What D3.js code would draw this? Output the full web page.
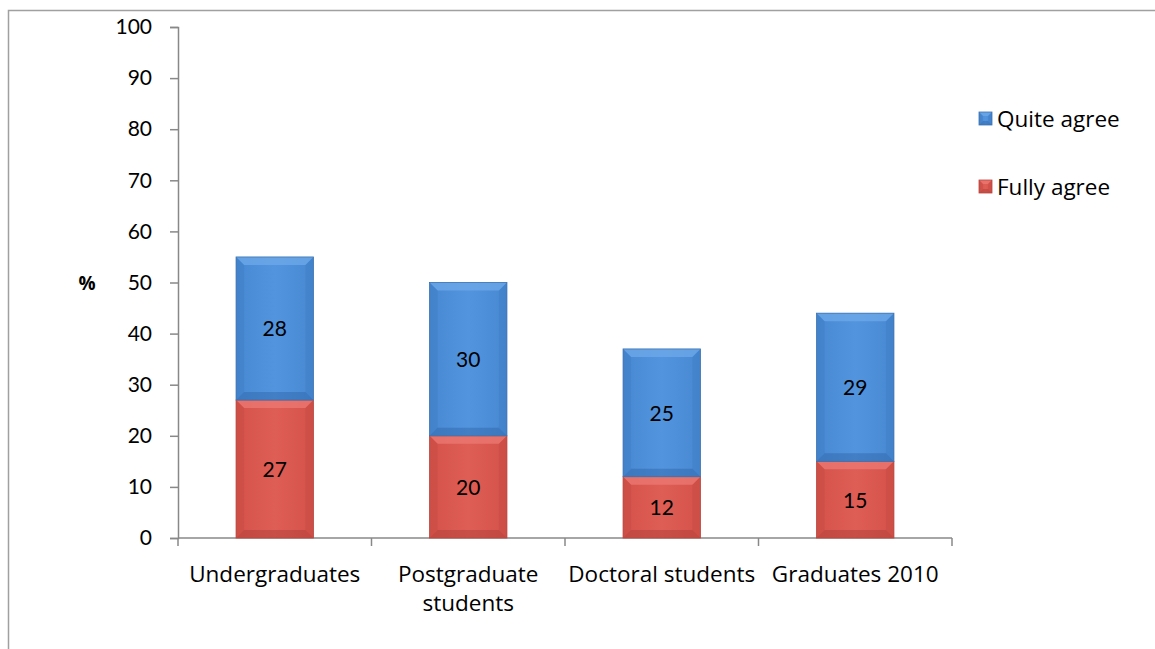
<!DOCTYPE html>
<html>
<head>
<meta charset="utf-8">
<script src="https://cdn.jsdelivr.net/npm/d3@7"></script>
<style>
  body { margin: 0; background: #fff; }
  text { font-family: "Open Sans", Lato, sans-serif; fill: #000; }
</style>
</head>
<body>
<script>
// data
var categories = ["Undergraduates", "Postgraduate students", "Doctoral students", "Graduates 2010"];
var catLines = [["Undergraduates"], ["Postgraduate", "students"], ["Doctoral students"], ["Graduates 2010"]];
var fullyAgree = [27, 20, 12, 15];
var quiteAgree = [28, 30, 25, 29];
var seriesNames = ["Quite agree", "Fully agree"];
var yTicks = [0, 10, 20, 30, 40, 50, 60, 70, 80, 90, 100];

var W = 1155, H = 649;
var plot = {left: 178, right: 952, top: 27, bottom: 538};
var fs = "22.5px";

var svg = d3.select("body").append("svg")
  .attr("width", W)
  .attr("height", H);

// defs: gradients for the bevelled bars
var defs = svg.append("defs");
function hGrad(id, edge, mid) {
  var g = defs.append("linearGradient").attr("id", id)
    .attr("x1", "0").attr("x2", "1").attr("y1", "0").attr("y2", "0");
  g.append("stop").attr("offset", "0").attr("stop-color", edge);
  g.append("stop").attr("offset", "0.5").attr("stop-color", mid);
  g.append("stop").attr("offset", "1").attr("stop-color", edge);
}
hGrad("gBlue", "#4888d2", "#5295de");
hGrad("gRed", "#d4524a", "#de5d55");

var colors = {
  blue: {fill: "url(#gBlue)", top: "#6eaaea", side: "#3a78c0", bottom: "#2f64a6", stroke: "#3d72b0"},
  red: {fill: "url(#gRed)", top: "#ec7b74", side: "#c04840", bottom: "#ac3e37", stroke: "#b9463f"}
};

// outer border
svg.append("rect")
  .attr("x", 8.5).attr("y", 10.5)
  .attr("width", W + 20).attr("height", H + 20)
  .attr("fill", "none")
  .attr("stroke", "#a0a0a0")
  .attr("stroke-width", 1.5);

var x = d3.scaleBand()
  .domain(categories)
  .range([plot.left, plot.right])
  .paddingInner(0.6)
  .paddingOuter(0.3);

var y = d3.scaleLinear()
  .domain([0, 100])
  .range([plot.bottom, plot.top]);

// y axis
var yAxis = svg.append("g")
  .attr("transform", "translate(" + plot.left + ",0)")
  .call(d3.axisLeft(y).tickValues(yTicks).tickSize(8).tickPadding(18));
yAxis.select(".domain").attr("stroke", "#888").attr("stroke-width", 1.5);
yAxis.selectAll(".tick line").attr("stroke", "#888").attr("stroke-width", 1.5);
yAxis.selectAll("text").attr("fill", "#000")
  .style("font-family", "Lato, sans-serif").style("font-size", "21px");

// x axis line and ticks at category boundaries
svg.append("line")
  .attr("x1", plot.left).attr("x2", plot.right)
  .attr("y1", plot.bottom).attr("y2", plot.bottom)
  .attr("stroke", "#888").attr("stroke-width", 1.5);
var step = x.step();
var bounds = d3.range(categories.length + 1).map(function(i) { return plot.left + i * step; });
svg.selectAll(".xtick").data(bounds).enter().append("line")
  .attr("x1", function(d) { return d; }).attr("x2", function(d) { return d; })
  .attr("y1", plot.bottom).attr("y2", plot.bottom + 8)
  .attr("stroke", "#888").attr("stroke-width", 1.5);

// x labels
categories.forEach(function(c, i) {
  var t = svg.append("text")
    .attr("x", x(c) + x.bandwidth() / 2)
    .attr("y", 582)
    .attr("text-anchor", "middle")
    .style("font-size", fs);
  catLines[i].forEach(function(line, j) {
    t.append("tspan")
      .attr("x", x(c) + x.bandwidth() / 2)
      .attr("dy", j === 0 ? 0 : 29)
      .text(line);
  });
});

// % label
svg.append("text")
  .attr("x", 87).attr("y", 290)
  .attr("text-anchor", "middle")
  .style("font-size", "19px")
  .style("font-weight", "bold")
  .text("%");

// bevelled segment
function drawSegment(g, x0, w, y0, y1, c, b0) {
  var h = y1 - y0, b = Math.min(b0 || 8, h / 2);
  g.append("rect").attr("x", x0).attr("y", y0).attr("width", w).attr("height", h)
    .attr("fill", c.fill);
  // top bevel
  g.append("path")
    .attr("d", "M" + x0 + "," + y0 + "L" + (x0 + w) + "," + y0 + "L" + (x0 + w - b) + "," + (y0 + b) + "L" + (x0 + b) + "," + (y0 + b) + "Z")
    .attr("fill", c.top).attr("opacity", 0.75);
  // left/right bevel
  g.append("path")
    .attr("d", "M" + x0 + "," + y0 + "L" + (x0 + b) + "," + (y0 + b) + "L" + (x0 + b) + "," + (y1 - b) + "L" + x0 + "," + y1 + "Z")
    .attr("fill", c.side).attr("opacity", 0.35);
  g.append("path")
    .attr("d", "M" + (x0 + w) + "," + y0 + "L" + (x0 + w - b) + "," + (y0 + b) + "L" + (x0 + w - b) + "," + (y1 - b) + "L" + (x0 + w) + "," + y1 + "Z")
    .attr("fill", c.side).attr("opacity", 0.35);
  // bottom bevel
  g.append("path")
    .attr("d", "M" + x0 + "," + y1 + "L" + (x0 + w) + "," + y1 + "L" + (x0 + w - b) + "," + (y1 - b) + "L" + (x0 + b) + "," + (y1 - b) + "Z")
    .attr("fill", c.bottom).attr("opacity", 0.45);
  g.append("rect").attr("x", x0).attr("y", y0).attr("width", w).attr("height", h)
    .attr("fill", "none").attr("stroke", c.stroke).attr("stroke-width", 0.8);
}

var bars = svg.append("g");
categories.forEach(function(c, i) {
  var x0 = x(c), w = x.bandwidth();
  drawSegment(bars, x0, w, y(fullyAgree[i]), y(0), colors.red);
  drawSegment(bars, x0, w, y(fullyAgree[i] + quiteAgree[i]), y(fullyAgree[i]), colors.blue);
  bars.append("text")
    .attr("x", x0 + w / 2)
    .attr("y", (y(fullyAgree[i]) + y(0)) / 2 + 8)
    .attr("text-anchor", "middle")
    .style("font-family", "Lato, sans-serif")
    .style("font-size", "21px")
    .text(fullyAgree[i]);
  bars.append("text")
    .attr("x", x0 + w / 2)
    .attr("y", (y(fullyAgree[i] + quiteAgree[i]) + y(fullyAgree[i])) / 2 + 8)
    .attr("text-anchor", "middle")
    .style("font-family", "Lato, sans-serif")
    .style("font-size", "21px")
    .text(quiteAgree[i]);
});

// legend
var legend = svg.append("g");
[colors.blue, colors.red].forEach(function(c, i) {
  var ly = 112 + i * 68;
  drawSegment(legend, 979, 13, ly, ly + 13, c, 4);
  legend.append("text")
    .attr("x", 997).attr("y", ly + 15)
    .style("font-size", fs)
    .text(seriesNames[i]);
});
</script>
</body>
</html>
